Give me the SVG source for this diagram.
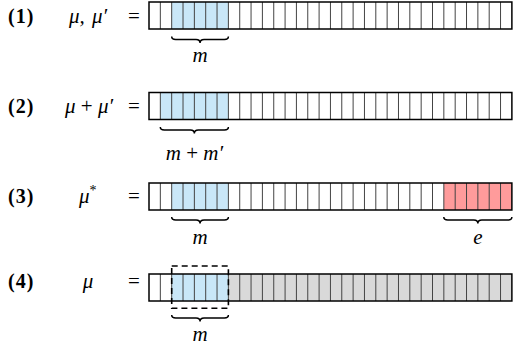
<svg xmlns="http://www.w3.org/2000/svg" xmlns:xlink="http://www.w3.org/1999/xlink" width="514" height="352" viewBox="0 0 514 352">
<style>
.lab{font-family:"Liberation Serif","DejaVu Serif",serif;font-size:20px;font-weight:bold;fill:#000}
.math{font-family:"Liberation Serif","DejaVu Serif",serif;font-size:21px;font-style:italic;fill:#000}
.eq{font-family:"Liberation Serif","DejaVu Serif",serif;font-size:21px;fill:#000}
.blue{fill:#c9e7f8}
.red{fill:#ff9b9b}
.grey{fill:#d9d9d9}
.brace{fill:none;stroke:#000;stroke-width:1.5}
.dash{fill:none;stroke:#000;stroke-width:1.6;stroke-dasharray:6 4}
</style>
<defs>
<g id="grid">
<path d="M160.34 0V27M171.68 0V27M183.02 0V27M194.36 0V27M205.7 0V27M217.04 0V27M228.38 0V27M239.72 0V27M251.06 0V27M262.4 0V27M273.74 0V27M285.08 0V27M296.42 0V27M307.76 0V27M319.1 0V27M330.44 0V27M341.78 0V27M353.12 0V27M364.46 0V27M375.8 0V27M387.14 0V27M398.48 0V27M409.82 0V27M421.16 0V27M432.5 0V27M443.84 0V27M455.18 0V27M466.52 0V27M477.86 0V27M489.2 0V27M500.54 0V27" stroke="#444" stroke-width="1"/>
<rect x="149" y="0" width="362.88" height="27" fill="none" stroke="#000" stroke-width="1.5"/>
</g>
</defs>

<g id="row1">
<text class="lab" x="8" y="22.5" letter-spacing="1">(1)</text>
<text class="math" x="88" y="22.5" text-anchor="middle" word-spacing="2">μ, μ′</text>
<text class="eq" x="134" y="22.5" text-anchor="middle">=</text>
<rect x="149" y="2" width="362.88" height="27" fill="#fff"/>
<rect class="blue" x="171.68" y="2" width="56.7" height="27"/>
<use xlink:href="#grid" y="2"/>
</g>

<g id="row2">
<text class="lab" x="8" y="112.5" letter-spacing="1">(2)</text>
<text class="math" x="89" y="112.5" text-anchor="middle">μ <tspan font-style="normal">+</tspan> μ′</text>
<text class="eq" x="134" y="112.5" text-anchor="middle">=</text>
<rect x="149" y="92.5" width="362.88" height="27" fill="#fff"/>
<rect class="blue" x="160.34" y="92.5" width="68.04" height="27"/>
<use xlink:href="#grid" y="92.5"/>
</g>

<g id="row3">
<text class="lab" x="8" y="203" letter-spacing="1">(3)</text>
<text class="math" x="79" y="203">μ<tspan font-size="14" dy="-8" font-style="normal">*</tspan></text>
<text class="eq" x="134" y="203" text-anchor="middle">=</text>
<rect x="149" y="183" width="362.88" height="27" fill="#fff"/>
<rect class="blue" x="171.68" y="183" width="56.7" height="27"/>
<rect class="red" x="443.84" y="183" width="68.04" height="27"/>
<use xlink:href="#grid" y="183"/>
</g>

<g id="row4">
<text class="lab" x="8" y="288" letter-spacing="1">(4)</text>
<text class="math" x="88" y="288" text-anchor="middle">μ</text>
<text class="eq" x="134" y="288" text-anchor="middle">=</text>
<rect x="149" y="274" width="362.88" height="27" fill="#fff"/>
<rect class="blue" x="171.68" y="274" width="56.7" height="27"/>
<rect class="grey" x="228.38" y="274" width="283.5" height="27"/>
<use xlink:href="#grid" y="274"/>
<rect class="dash" x="171.7" y="266" width="56.7" height="42.3"/>
</g>

<g id="connectors">
<path class="brace" d="M171.7 36.5 Q171.7 39.5 175.7 39.5 H196.05 Q200.05 39.5 200.05 43 Q200.05 39.5 204.05 39.5 H224.4 Q228.4 39.5 228.4 36.5"/>
<path class="brace" d="M160.3 127 Q160.3 130 164.3 130 H190.35 Q194.35 130 194.35 133.5 Q194.35 130 198.35 130 H224.4 Q228.4 130 228.4 127"/>
<path class="brace" d="M171.7 217 Q171.7 220 175.7 220 H196.05 Q200.05 220 200.05 223.5 Q200.05 220 204.05 220 H224.4 Q228.4 220 228.4 217"/>
<path class="brace" d="M443.8 217 Q443.8 220 447.8 220 H473.85 Q477.85 220 477.85 223.5 Q477.85 220 481.85 220 H507.9 Q511.9 220 511.9 217"/>
<path class="brace" d="M171.7 315 Q171.7 318 175.7 318 H196.05 Q200.05 318 200.05 321.5 Q200.05 318 204.05 318 H224.4 Q228.4 318 228.4 315"/>
</g>

<g id="labels">
<text class="math" x="200" y="62" text-anchor="middle">m</text>
<text class="math" x="194.4" y="160" text-anchor="middle">m <tspan font-style="normal">+</tspan> m′</text>
<text class="math" x="200" y="244" text-anchor="middle">m</text>
<text class="math" x="478" y="244" text-anchor="middle">e</text>
<text class="math" x="200" y="341" text-anchor="middle">m</text>
</g>
</svg>
